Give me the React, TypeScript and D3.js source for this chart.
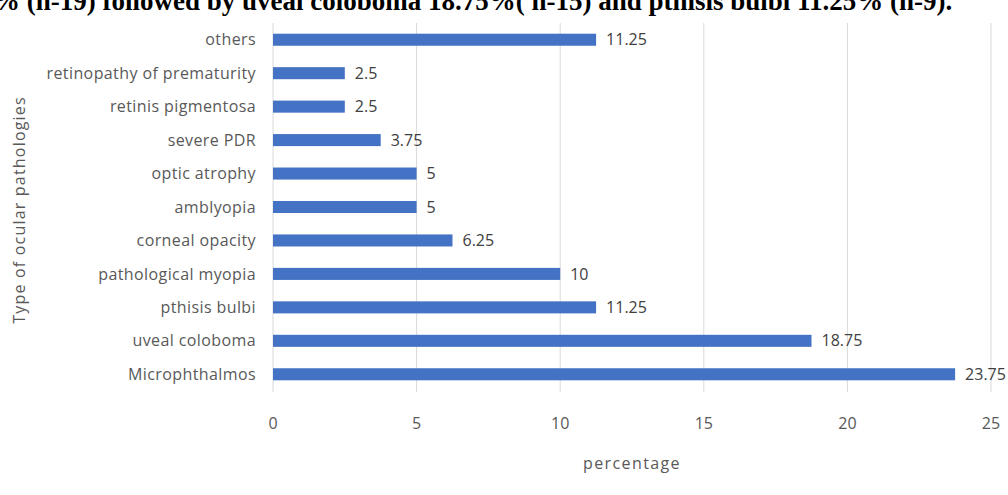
import React from "react";
import * as d3 from "d3";

const categories = [
  "others",
  "retinopathy of prematurity",
  "retinis pigmentosa",
  "severe PDR",
  "optic atrophy",
  "amblyopia",
  "corneal opacity",
  "pathological myopia",
  "pthisis bulbi",
  "uveal coloboma",
  "Microphthalmos",
];
const values = [11.25, 2.5, 2.5, 3.75, 5, 5, 6.25, 10, 11.25, 18.75, 23.75];
const xTicks = [0, 5, 10, 15, 20, 25];
const headline = "% (n-19) followed by uveal coloboma 18.75%( n-15) and pthisis bulbi 11.25% (n-9).";

const W = 1008;
const H = 495;
const plot = { left: 273, right: 991, top: 23, bottom: 391 };
const FONT = "'Open Sans', sans-serif";
const FS = 16;

export default function App() {
  const x = d3.scaleLinear().domain([0, 25]).range([plot.left, plot.right]);
  const y = d3
    .scaleBand<string>()
    .domain(categories)
    .range([plot.top, plot.bottom])
    .paddingInner(0.64)
    .paddingOuter(0.32);
  const bh = y.bandwidth();

  return (
    <svg
      width={W}
      height={H}
      style={{ position: "absolute", left: 0, top: 0, background: "#fff" }}
    >
      <text
        x={-7}
        y={10}
        fontFamily="'Liberation Serif', 'Times New Roman', serif"
        fontWeight="bold"
        fontSize={27}
        fill="#000"
      >
        {headline}
      </text>

      {xTicks.map((t) => (
        <g key={t}>
          <line
            x1={x(t)}
            x2={x(t)}
            y1={plot.top}
            y2={plot.bottom + 1}
            stroke="#d9d9d9"
            strokeWidth={1}
          />
          <text
            x={x(t)}
            y={429}
            textAnchor="middle"
            fontFamily={FONT}
            fontSize={FS}
            fill="#595959"
          >
            {t}
          </text>
        </g>
      ))}

      {categories.map((c, i) => {
        const yc = (y(c) ?? 0) + bh / 2;
        return (
          <g key={c}>
            <rect
              x={x(0)}
              y={y(c)}
              width={x(values[i]) - x(0)}
              height={bh}
              fill="#4472C4"
            />
            <text
              x={plot.left - 17}
              y={yc}
              dy="0.35em"
              textAnchor="end"
              fontFamily={FONT}
              fontSize={FS}
              letterSpacing={0.4}
              fill="#595959"
            >
              {c}
            </text>
            <text
              x={x(values[i]) + 10}
              y={yc}
              dy="0.35em"
              fontFamily={FONT}
              fontSize={FS}
              fill="#404040"
            >
              {values[i]}
            </text>
          </g>
        );
      })}

      <text
        x={(plot.left + plot.right) / 2}
        y={469}
        textAnchor="middle"
        fontFamily={FONT}
        fontSize={FS}
        letterSpacing={1.4}
        fill="#595959"
      >
        percentage
      </text>
      <text
        transform={`translate(25, ${(plot.top + plot.bottom) / 2 + 3}) rotate(-90)`}
        textAnchor="middle"
        fontFamily={FONT}
        fontSize={FS}
        letterSpacing={1.2}
        fill="#595959"
      >
        Type of ocular pathologies
      </text>
    </svg>
  );
}
